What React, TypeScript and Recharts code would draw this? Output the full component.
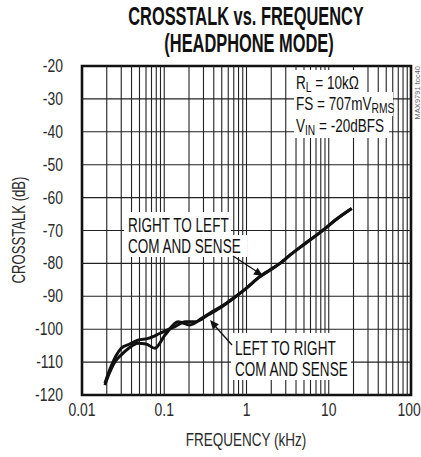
import React from "react";
import { LineChart, Line, XAxis, YAxis, ReferenceLine, ReferenceArea } from "recharts";

// ── data ──

const freqRL = [0.019, 0.022, 0.026, 0.03, 0.038, 0.048, 0.064, 0.08, 0.097, 0.135, 0.18, 0.24, 0.34, 0.48, 0.7, 1.0, 1.46, 1.93, 2.55, 3.4, 4.9, 8.6, 12.5, 19];
const xtalkRL = [-116.4, -112, -108, -105.8, -104.5, -103.3, -102.8, -101.8, -100.8, -99.2, -97.7, -97.7, -95.7, -93.5, -90.5, -87.5, -84, -82, -80, -77.4, -74.4, -69.8, -66.5, -63.3];

const freqLR = [0.019, 0.021, 0.025, 0.03, 0.037, 0.048, 0.06, 0.077, 0.102, 0.148, 0.205, 0.285, 0.38, 0.48, 0.7, 1.0, 1.46, 1.93, 2.55, 3.4, 4.9, 8.6, 12.5, 19];
const xtalkLR = [-117, -114, -110, -107.8, -105.8, -104.3, -104.5, -105.8, -101.8, -97.7, -98.7, -96.7, -94.7, -93.3, -90.5, -87.5, -84, -82, -80, -77.4, -74.4, -69.8, -66.5, -63.3];

const xTicks = [0.01, 0.1, 1, 10, 100];
const yTicks = [-20, -30, -40, -50, -60, -70, -80, -90, -100, -110, -120];
const gridFreqs = [
  0.02, 0.03, 0.04, 0.05, 0.06, 0.07, 0.08, 0.09,
  0.1, 0.2, 0.3, 0.4, 0.5, 0.6, 0.7, 0.8, 0.9,
  1, 2, 3, 4, 5, 6, 7, 8, 9,
  10, 20, 30, 40, 50, 60, 70, 80, 90,
];
const gridDb = [-30, -40, -50, -60, -70, -80, -90, -100, -110];

const dataRL = freqRL.map((f, i) => ({ f, db: xtalkRL[i] }));
const dataLR = freqLR.map((f, i) => ({ f, db: xtalkLR[i] }));

// no narrow face installed, so squeeze Liberation Sans horizontally
const FONT = "'Liberation Sans', Arial, sans-serif";
const NARROW = 0.82;
const INK = "#111";
const LABEL = "#2b2b2b";

function Txt({ x, y, size = 16.5, sy = 1.18, weight = 400, anchor = "start", fill = INK, children }: any) {
  return (
    <text
      transform={`translate(${x},${y}) scale(${NARROW},${sy})`}
      fontFamily={FONT}
      fontSize={size}
      fontWeight={weight}
      textAnchor={anchor}
      fill={fill}
    >
      {children}
    </text>
  );
}

const XTick = ({ x, y, payload }: any) => (
  <Txt x={x} y={y + 13} size={17} sy={1.07} anchor="middle" fill={LABEL}>
    {payload.value}
  </Txt>
);

const YTick = ({ y, payload }: any) => (
  <Txt x={63} y={y + 6} size={17} sy={1.07} anchor="end" fill={LABEL}>
    {payload.value}
  </Txt>
);

function Overlay() {
  return (
    <svg width={421} height={457} style={{ position: "absolute", left: 0, top: 0, pointerEvents: "none" }}>
      {/* title */}
      <Txt x={246} y={25} size={20} sy={1.25} weight={700} anchor="middle">CROSSTALK vs. FREQUENCY</Txt>
      <Txt x={249} y={52} size={20} sy={1.25} weight={700} anchor="middle">(HEADPHONE MODE)</Txt>

      {/* axis titles */}
      <Txt x={246} y={446} size={16.5} sy={1.12} anchor="middle" fill={LABEL}>FREQUENCY (kHz)</Txt>
      <g transform="translate(25,230) rotate(-90)">
        <Txt x={0} y={0} size={16} sy={1.13} anchor="middle" fill={LABEL}>CROSSTALK (dB)</Txt>
      </g>
      <g transform="translate(420,66) rotate(-90)">
        <text x={0} y={0} fontFamily={FONT} fontSize={7.5} fill="#666" textAnchor="end">MAX9791 toc40</text>
      </g>

      {/* conditions box */}
      <rect x={294} y={70} width={70} height={22} fill="#fff" />
      <rect x={294} y={92} width={99} height={24} fill="#fff" />
      <rect x={294} y={116} width={95} height={22} fill="#fff" />
      <Txt x={296} y={89} sy={1.1}>R<tspan fontSize={12.5} dy={3}>L</tspan><tspan dy={-3}> = 10kΩ</tspan></Txt>
      <Txt x={296} y={110} sy={1.1}>FS = 707mV<tspan fontSize={12.5} dy={3}>RMS</tspan></Txt>
      <Txt x={296} y={132} sy={1.1}>V<tspan fontSize={12.5} dy={3}>IN</tspan><tspan dy={-3}> = -20dBFS</tspan></Txt>

      {/* right to left callout */}
      <rect x={124} y={212} width={107} height={23} fill="#fff" />
      <rect x={124} y={235} width={123} height={22} fill="#fff" />
      <Txt x={128} y={232}>RIGHT TO LEFT</Txt>
      <Txt x={128} y={253}>COM AND SENSE</Txt>
      <line x1={233} y1={256} x2={256} y2={271} stroke={INK} strokeWidth={1.3} />
      <polygon points="263,276 253.2,274.5 257.6,267.7" fill={INK} />

      {/* left to right callout */}
      <rect x={231} y={333} width={104} height={24} fill="#fff" />
      <rect x={231} y={357} width={120} height={23} fill="#fff" />
      <Txt x={235} y={355}>LEFT TO RIGHT</Txt>
      <Txt x={235} y={376}>COM AND SENSE</Txt>
      <line x1={232} y1={345} x2={215} y2={326} stroke={INK} strokeWidth={1.3} />
      <polygon points="210,320 218.9,324.2 212.9,329.4" fill={INK} />
    </svg>
  );
}

export default function App() {
  return (
    <div style={{ position: "absolute", left: 0, top: 0, width: 421, height: 457, background: "#fff" }}>
      <LineChart width={421} height={457} margin={{ top: 66, right: 10, bottom: 0, left: 0 }}>
        <XAxis
          dataKey="f"
          type="number"
          scale="log"
          domain={[0.01, 100]}
          ticks={xTicks}
          allowDataOverflow
          axisLine={false}
          tickLine={false}
          height={62}
          tick={<XTick />}
        />
        <YAxis
          dataKey="db"
          type="number"
          domain={[-120, -20]}
          ticks={yTicks}
          allowDataOverflow
          axisLine={false}
          tickLine={false}
          width={82}
          tick={<YTick />}
        />
        {gridFreqs.map((v) => (
          <ReferenceLine key={"x" + v} x={v} stroke="#222" strokeWidth={1.1} />
        ))}
        {gridDb.map((v) => (
          <ReferenceLine key={"y" + v} y={v} stroke="#222" strokeWidth={1.1} />
        ))}
        <Line data={dataLR} dataKey="db" type="monotone" stroke={INK} strokeWidth={3} dot={false} isAnimationActive={false} />
        <Line data={dataRL} dataKey="db" type="monotone" stroke={INK} strokeWidth={3} dot={false} isAnimationActive={false} />
        <ReferenceArea x1={0.01} x2={100} y1={-120} y2={-20} fill="none" stroke={INK} strokeWidth={2.6} />
      </LineChart>
      <Overlay />
    </div>
  );
}
